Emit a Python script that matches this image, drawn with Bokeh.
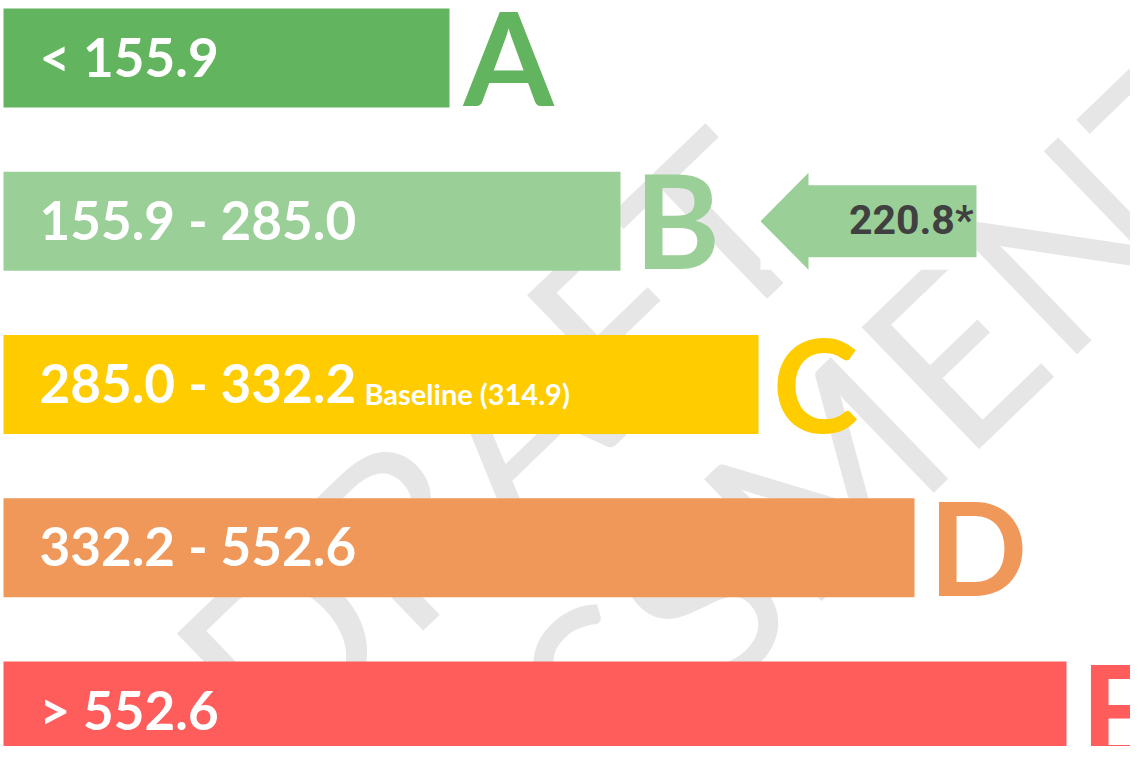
import math
from bokeh.plotting import figure
from bokeh.models import Range1d
from bokeh.core.properties import value
from bokeh.embed import file_html
from bokeh.resources import INLINE

# ---- data ----
ratings = ["A", "B", "C", "D", "E"]
thresholds = [155.9, 285.0, 332.2, 552.6]
bar_lengths = [446, 617, 755, 911, 1063]
colors = ["#62b45e", "#9bcf98", "#ffcc00", "#f0985a", "#ff5c5c"]
score = 220.8
baseline_value = 314.9
watermark_lines = ["DRAFT", "ASSESSMENT"]

# ---- derived labels ----
range_labels = []
for i in range(len(ratings)):
    if i == 0:
        range_labels.append(f"< {thresholds[0]:.1f}")
    elif i == len(ratings) - 1:
        range_labels.append(f"> {thresholds[-1]:.1f}")
    else:
        range_labels.append(f"{thresholds[i-1]:.1f} - {thresholds[i]:.1f}")

def band_of(v):
    for i, t in enumerate(thresholds):
        if v < t:
            return i
    return len(thresholds)

ypos = [len(ratings) - 1 - i for i in range(len(ratings))]

# ---- layout ----
W, H = 1130, 746
PITCH = 163.25          # px per row
BAR_PX = 99
bar_h = BAR_PX / PITCH
y_top = ypos[0] + bar_h / 2 + 8 / PITCH
y_bot = y_top - H / PITCH
X0 = -3

def px2x(px):
    return px + X0

def py2y(py):
    return y_top - py / PITCH

p = figure(width=W, height=H, x_range=Range1d(X0, X0 + W), y_range=Range1d(y_bot, y_top),
           toolbar_location=None, output_backend="svg", min_border=0,
           x_axis_location=None, y_axis_location=None,
           outline_line_color=None, background_fill_color="white",
           border_fill_color="white")
p.grid.visible = False

# watermark
ang = math.radians(44)
p.text(x=[px2x(488), px2x(694)], y=[py2y(440), py2y(596)], text=watermark_lines,
       angle=ang, text_font=value("Lato"), text_font_size="236px",
       text_color="#e6e6e6", text_align="center", text_baseline="middle")

# bars
p.hbar(y=ypos, left=0, right=bar_lengths, height=bar_h, fill_color=colors, line_color=None)

# range labels inside bars
p.text(x=36, y=ypos, text=range_labels, text_font=value("Lato"), text_font_style="bold",
       text_font_size="53px", text_color="white", text_baseline="alphabetic", y_offset=-2)

# baseline note
bi = band_of(baseline_value)
p.text(x=[px2x(364)], y=[ypos[bi]], text=[f"Baseline ({baseline_value:.1f})"],
       text_font=value("Lato"), text_font_style="bold", text_font_size="29px",
       text_color="white", text_baseline="alphabetic", y_offset=8.5)

# rating letters
p.text(x=[b + 14 for b in bar_lengths], y=ypos, text=ratings, text_font=value("Lato"),
       text_font_style="bold", text_font_size="130px", text_color=colors,
       text_baseline="alphabetic", y_offset=-2)

# score arrow
si = band_of(score)
cy = ypos[si]
tip, head, right = px2x(760), px2x(808), px2x(976)
hh, bh = 48.5 / PITCH, 36 / PITCH
p.quad(left=[tip], right=[right], bottom=[cy - hh], top=[cy + hh],
       fill_color="white", line_color=None)
p.patch(x=[tip, head, head, right, right, head, head],
        y=[cy, cy + hh, cy + bh, cy + bh, cy - bh, cy - bh, cy - hh],
        fill_color=colors[si], line_color=None)
p.text(x=[px2x(973)], y=[cy], text=[f"{score:.1f}*"], text_font=value("Roboto"),
       text_font_style="bold", text_font_size="41px", text_color="#404040",
       text_align="right", text_baseline="alphabetic", y_offset=-1)

open("out.html", "w").write(file_html(p, INLINE))
